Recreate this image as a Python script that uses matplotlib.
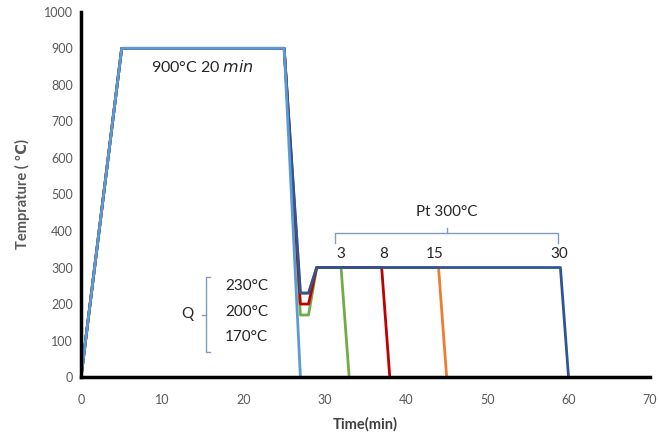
import matplotlib
matplotlib.use("Agg")
import matplotlib.pyplot as plt

plt.rcParams['font.family'] = ['Lato', 'DejaVu Sans']

# Data: time (min) and temperature (°C) for each profile
t_water = [0, 5, 25, 27]
T_water = [0, 900, 900, 0]

t_q230 = [0, 5, 25, 27, 28, 29, 59, 60]
T_q230 = [0, 900, 900, 230, 230, 300, 300, 0]

t_q200 = [0, 5, 25, 27, 28, 29, 37, 38]
T_q200 = [0, 900, 900, 200, 200, 300, 300, 0]

t_q170 = [0, 5, 25, 27, 28, 29, 32, 33]
T_q170 = [0, 900, 900, 170, 170, 300, 300, 0]

t_p15 = [0, 5, 25, 27, 28, 29, 44, 45]
T_p15 = [0, 900, 900, 230, 230, 300, 300, 0]

x_ticks = list(range(0, 71, 10))
y_ticks = list(range(0, 1001, 100))

hold_labels = ["3", "8", "15", "30"]
hold_x = [32, 37.2, 43.5, 58.8]
quench_labels = ["230°C", "200°C", "170°C"]
quench_y = [249, 178, 110]

fig = plt.figure(figsize=(6.59, 4.38), dpi=100)
ax = fig.add_axes([0.123, 0.139, 0.863, 0.834])

lw = 2.0
ax.plot(t_p15, T_p15, color='#ED7D31', lw=lw, zorder=2)
ax.plot(t_q200, T_q200, color='#C00000', lw=lw, zorder=3)
ax.plot(t_q170, T_q170, color='#70AD47', lw=lw, zorder=2.5)
ax.plot(t_q230, T_q230, color='#2F5597', lw=lw, zorder=4)
ax.plot(t_water, T_water, color='#5B9BD5', lw=lw, zorder=5)

ax.set_xlim(0, 70)
ax.set_ylim(0, 1000)
ax.set_xticks(x_ticks)
ax.set_yticks(y_ticks)
ax.tick_params(length=0, labelsize=9, labelcolor='#595959')
ax.tick_params(axis='x', pad=12)
ax.tick_params(axis='y', pad=6)
for s in ['top', 'right']:
    ax.spines[s].set_visible(False)
for s in ['left', 'bottom']:
    ax.spines[s].set_linewidth(2.5)
    ax.spines[s].set_color('black')
    ax.spines[s].set_zorder(6)

ax.set_xlabel('Time(min)', fontsize=10.5, fontweight='bold', color='#404040', labelpad=8)
ax.set_ylabel('Temprature ( ℃)', fontsize=10.5, fontweight='bold', color='#595959', labelpad=10)

# annotations
ax.text(15, 848, r'900°C 20 $\mathit{min}$', fontsize=11.5, ha='center', va='center', color='#262626')

bc = '#7F9CC4'
# Pt bracket
ax.plot([31.2, 31.2, 58.7, 58.7], [368, 395, 395, 368], color=bc, lw=1)
ax.plot([45, 45], [395, 408], color=bc, lw=1)
ax.text(45, 452, 'Pt 300°C', fontsize=11, ha='center', va='center', color='#262626')
for lab, x in zip(hold_labels, hold_x):
    ax.text(x, 337, lab, fontsize=11, ha='center', va='center', color='#262626')

# Q bracket
ax.plot([15.9, 15.4, 15.4, 15.9], [274, 274, 68, 68], color=bc, lw=1)
ax.plot([15.4, 14.9], [171, 171], color=bc, lw=1)
ax.text(13.1, 173, 'Q', fontsize=11, ha='center', va='center', color='#262626')
for lab, y in zip(quench_labels, quench_y):
    ax.text(17.7, y, lab, fontsize=11, ha='left', va='center', color='#262626')

fig.savefig('out.png', dpi=100)
